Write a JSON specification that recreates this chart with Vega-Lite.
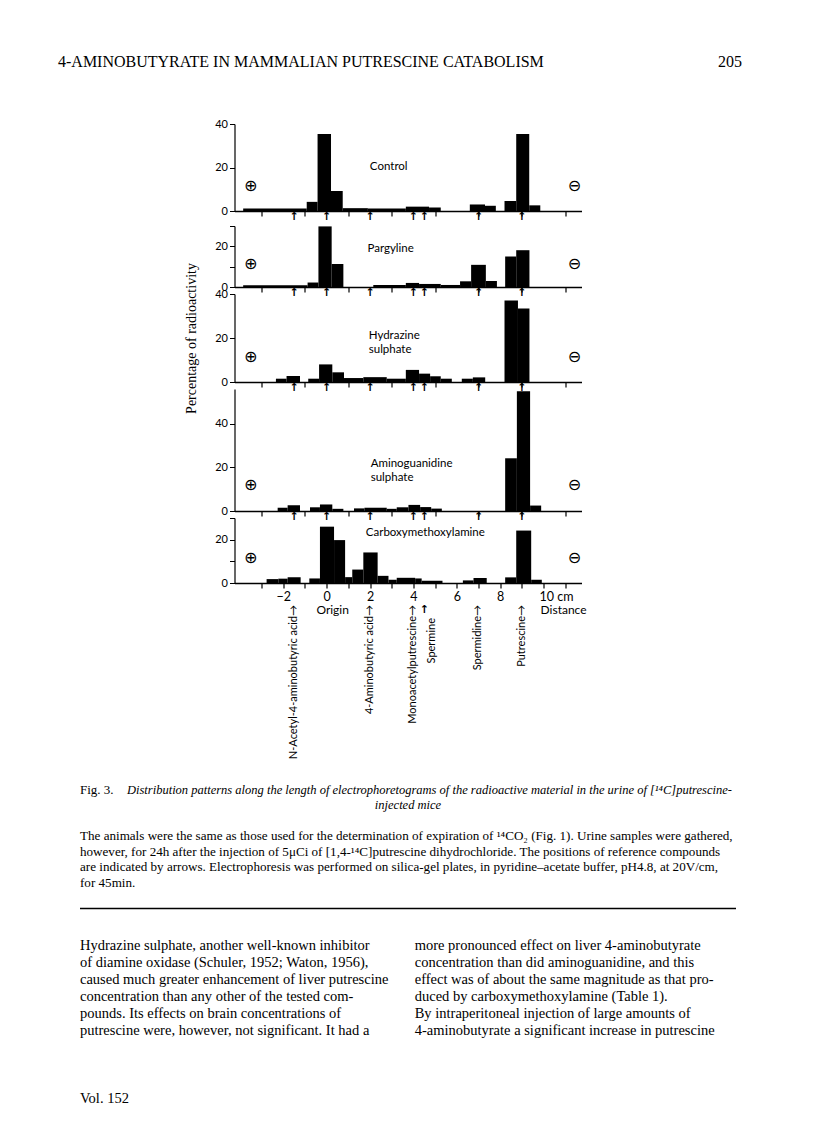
{
  "$schema": "https://vega.github.io/schema/vega-lite/v6.json",
  "background": "white",
  "padding": {"top": 52, "left": 58, "right": 5, "bottom": 5},
  "bounds": "flush",
  "center": true,
  "spacing": 7,
  "config": {
    "view": {"stroke": null},
    "font": "Lato",
    "axis": {"grid": false, "domainColor": "black", "tickColor": "black", "labelColor": "black", "labelFont": "Lato", "titleColor": "black", "labelOverlap": false, "labelBound": false, "labelFlush": false},
    "text": {"color": "black"}
  },
  "datasets": {
    "bars": [
      {"panel": "Control", "start": -3.85, "end": -0.92, "percent": 1.2},
      {"panel": "Control", "start": -0.92, "end": -0.42, "percent": 4.2},
      {"panel": "Control", "start": -0.42, "end": 0.2, "percent": 35.4},
      {"panel": "Control", "start": 0.2, "end": 0.74, "percent": 9.2},
      {"panel": "Control", "start": 0.74, "end": 1.9, "percent": 1.3},
      {"panel": "Control", "start": 1.9, "end": 3.65, "percent": 1.1},
      {"panel": "Control", "start": 3.65, "end": 4.72, "percent": 2.0},
      {"panel": "Control", "start": 4.72, "end": 5.26, "percent": 1.6},
      {"panel": "Control", "start": 6.6, "end": 7.3, "percent": 3.0},
      {"panel": "Control", "start": 7.3, "end": 7.8, "percent": 2.4},
      {"panel": "Control", "start": 8.2, "end": 8.74, "percent": 4.6},
      {"panel": "Control", "start": 8.74, "end": 9.34, "percent": 35.4},
      {"panel": "Control", "start": 9.34, "end": 9.85, "percent": 2.6},

      {"panel": "Pargyline", "start": -3.85, "end": -0.88, "percent": 0.9},
      {"panel": "Pargyline", "start": -0.88, "end": -0.38, "percent": 2.2},
      {"panel": "Pargyline", "start": -0.38, "end": 0.23, "percent": 29.8},
      {"panel": "Pargyline", "start": 0.23, "end": 0.77, "percent": 11.3},
      {"panel": "Pargyline", "start": 2.15, "end": 3.65, "percent": 1.0},
      {"panel": "Pargyline", "start": 3.65, "end": 4.26, "percent": 2.0},
      {"panel": "Pargyline", "start": 4.26, "end": 5.26, "percent": 1.5},
      {"panel": "Pargyline", "start": 5.26, "end": 6.15, "percent": 1.0},
      {"panel": "Pargyline", "start": 6.15, "end": 6.66, "percent": 2.8},
      {"panel": "Pargyline", "start": 6.66, "end": 7.34, "percent": 10.9},
      {"panel": "Pargyline", "start": 7.34, "end": 7.85, "percent": 3.0},
      {"panel": "Pargyline", "start": 8.23, "end": 8.74, "percent": 15.0},
      {"panel": "Pargyline", "start": 8.74, "end": 9.35, "percent": 18.1},

      {"panel": "Hydrazine sulphate", "start": -2.34, "end": -1.85, "percent": 1.5},
      {"panel": "Hydrazine sulphate", "start": -1.85, "end": -1.23, "percent": 2.7},
      {"panel": "Hydrazine sulphate", "start": -0.85, "end": -0.35, "percent": 1.5},
      {"panel": "Hydrazine sulphate", "start": -0.35, "end": 0.26, "percent": 8.0},
      {"panel": "Hydrazine sulphate", "start": 0.26, "end": 0.8, "percent": 4.4},
      {"panel": "Hydrazine sulphate", "start": 0.8, "end": 1.69, "percent": 1.8},
      {"panel": "Hydrazine sulphate", "start": 1.69, "end": 2.77, "percent": 2.2},
      {"panel": "Hydrazine sulphate", "start": 2.77, "end": 3.65, "percent": 1.5},
      {"panel": "Hydrazine sulphate", "start": 3.65, "end": 4.26, "percent": 5.5},
      {"panel": "Hydrazine sulphate", "start": 4.26, "end": 4.77, "percent": 3.8},
      {"panel": "Hydrazine sulphate", "start": 4.77, "end": 5.26, "percent": 2.6},
      {"panel": "Hydrazine sulphate", "start": 5.26, "end": 5.77, "percent": 1.5},
      {"panel": "Hydrazine sulphate", "start": 6.23, "end": 6.74, "percent": 1.5},
      {"panel": "Hydrazine sulphate", "start": 6.74, "end": 7.31, "percent": 2.1},
      {"panel": "Hydrazine sulphate", "start": 8.2, "end": 8.82, "percent": 37.0},
      {"panel": "Hydrazine sulphate", "start": 8.82, "end": 9.35, "percent": 33.4},

      {"panel": "Aminoguanidine sulphate", "start": -2.26, "end": -1.8, "percent": 1.5},
      {"panel": "Aminoguanidine sulphate", "start": -1.8, "end": -1.23, "percent": 2.6},
      {"panel": "Aminoguanidine sulphate", "start": -0.77, "end": -0.31, "percent": 1.7},
      {"panel": "Aminoguanidine sulphate", "start": -0.31, "end": 0.26, "percent": 3.0},
      {"panel": "Aminoguanidine sulphate", "start": 0.26, "end": 0.77, "percent": 1.0},
      {"panel": "Aminoguanidine sulphate", "start": 1.26, "end": 1.74, "percent": 1.2},
      {"panel": "Aminoguanidine sulphate", "start": 1.74, "end": 2.77, "percent": 1.5},
      {"panel": "Aminoguanidine sulphate", "start": 2.77, "end": 3.23, "percent": 1.0},
      {"panel": "Aminoguanidine sulphate", "start": 3.23, "end": 3.77, "percent": 1.7},
      {"panel": "Aminoguanidine sulphate", "start": 3.77, "end": 4.31, "percent": 2.8},
      {"panel": "Aminoguanidine sulphate", "start": 4.31, "end": 4.82, "percent": 1.8},
      {"panel": "Aminoguanidine sulphate", "start": 4.82, "end": 5.31, "percent": 1.1},
      {"panel": "Aminoguanidine sulphate", "start": 8.23, "end": 8.77, "percent": 24.2},
      {"panel": "Aminoguanidine sulphate", "start": 8.77, "end": 9.38, "percent": 55.0},
      {"panel": "Aminoguanidine sulphate", "start": 9.38, "end": 9.89, "percent": 2.5},

      {"panel": "Carboxymethoxylamine", "start": -2.77, "end": -2.23, "percent": 1.8},
      {"panel": "Carboxymethoxylamine", "start": -2.23, "end": -1.8, "percent": 2.0},
      {"panel": "Carboxymethoxylamine", "start": -1.8, "end": -1.2, "percent": 2.7},
      {"panel": "Carboxymethoxylamine", "start": -0.8, "end": -0.31, "percent": 2.1},
      {"panel": "Carboxymethoxylamine", "start": -0.31, "end": 0.34, "percent": 26.0},
      {"panel": "Carboxymethoxylamine", "start": 0.34, "end": 0.85, "percent": 19.8},
      {"panel": "Carboxymethoxylamine", "start": 0.85, "end": 1.18, "percent": 2.7},
      {"panel": "Carboxymethoxylamine", "start": 1.18, "end": 1.69, "percent": 6.2},
      {"panel": "Carboxymethoxylamine", "start": 1.69, "end": 2.35, "percent": 14.1},
      {"panel": "Carboxymethoxylamine", "start": 2.35, "end": 2.85, "percent": 3.3},
      {"panel": "Carboxymethoxylamine", "start": 2.85, "end": 3.23, "percent": 1.5},
      {"panel": "Carboxymethoxylamine", "start": 3.23, "end": 4.08, "percent": 2.4},
      {"panel": "Carboxymethoxylamine", "start": 4.08, "end": 4.38, "percent": 2.1},
      {"panel": "Carboxymethoxylamine", "start": 4.38, "end": 5.34, "percent": 1.0},
      {"panel": "Carboxymethoxylamine", "start": 6.28, "end": 6.77, "percent": 1.2},
      {"panel": "Carboxymethoxylamine", "start": 6.77, "end": 7.38, "percent": 2.3},
      {"panel": "Carboxymethoxylamine", "start": 8.23, "end": 8.74, "percent": 2.6},
      {"panel": "Carboxymethoxylamine", "start": 8.74, "end": 9.43, "percent": 24.2},
      {"panel": "Carboxymethoxylamine", "start": 9.43, "end": 9.92, "percent": 1.5}
    ],
    "compounds": [
      {"compound": "N-Acetyl-4-aminobutyric acid", "position": -1.5, "label": "N-Acetyl-4-aminobutyric acid→"},
      {"compound": "Origin", "position": 0, "label": ""},
      {"compound": "4-Aminobutyric acid", "position": 2, "label": "4-Aminobutyric acid→"},
      {"compound": "Monoacetylputrescine", "position": 4, "label": "Monoacetylputrescine→"},
      {"compound": "Spermine", "position": 4.5, "label": "Spermine"},
      {"compound": "Spermidine", "position": 7, "label": "Spermidine→"},
      {"compound": "Putrescine", "position": 9, "label": "Putrescine→"}
    ],
    "electrodes": [
      {"electrode": "anode", "symbol": "⊕"},
      {"electrode": "cathode", "symbol": "⊖"}
    ],
    "page": [
      {"part": "running-head", "col": 0, "line": 0, "text": "4-AMINOBUTYRATE IN MAMMALIAN PUTRESCINE CATABOLISM"},
      {"part": "page-number", "col": 1, "line": 0, "text": "205"},
      {"part": "fig", "col": 0, "line": 0, "text": "Fig. 3."},
      {"part": "title", "col": 0, "line": 0, "text": "Distribution patterns along the length of electrophoretograms of the radioactive material in the urine of [¹⁴C]putrescine-"},
      {"part": "title-cont", "col": 0, "line": 1, "text": "injected mice"},
      {"part": "legend", "col": 0, "line": 3, "text": "The animals were the same as those used for the determination of expiration of ¹⁴CO₂ (Fig. 1). Urine samples were gathered,"},
      {"part": "legend", "col": 0, "line": 4, "text": "however, for 24h after the injection of 5μCi of [1,4-¹⁴C]putrescine dihydrochloride. The positions of reference compounds"},
      {"part": "legend", "col": 0, "line": 5, "text": "are indicated by arrows. Electrophoresis was performed on silica-gel plates, in pyridine–acetate buffer, pH4.8, at 20V/cm,"},
      {"part": "legend", "col": 0, "line": 6, "text": "for 45min."},
      {"part": "body", "col": 0, "line": 1, "text": "    Hydrazine sulphate, another well-known inhibitor"},
      {"part": "body", "col": 0, "line": 2, "text": "of diamine oxidase (Schuler, 1952; Waton, 1956),"},
      {"part": "body", "col": 0, "line": 3, "text": "caused much greater enhancement of liver putrescine"},
      {"part": "body", "col": 0, "line": 4, "text": "concentration than any other of the tested com-"},
      {"part": "body", "col": 0, "line": 5, "text": "pounds. Its effects on brain concentrations of"},
      {"part": "body", "col": 0, "line": 6, "text": "putrescine were, however, not significant. It had a"},
      {"part": "body", "col": 0, "line": 10, "text": "Vol. 152"},
      {"part": "body", "col": 1, "line": 1, "text": "more pronounced effect on liver 4-aminobutyrate"},
      {"part": "body", "col": 1, "line": 2, "text": "concentration than did aminoguanidine, and this"},
      {"part": "body", "col": 1, "line": 3, "text": "effect was of about the same magnitude as that pro-"},
      {"part": "body", "col": 1, "line": 4, "text": "duced by carboxymethoxylamine (Table 1)."},
      {"part": "body", "col": 1, "line": 5, "text": "    By intraperitoneal injection of large amounts of"},
      {"part": "body", "col": 1, "line": 6, "text": "4-aminobutyrate a significant increase in putrescine"}
    ]
  },
  "vconcat": [
    {
      "width": 700, "height": 20,
      "data": {"name": "page"},
      "layer": [
        {"transform": [{"filter": "datum.part == 'running-head'"}],
         "mark": {"type": "text", "align": "left", "baseline": "middle", "font": "Liberation Serif", "fontSize": 16},
         "encoding": {"x": {"datum": 0, "scale": {"domain": [0, 1]}, "axis": null}, "text": {"field": "text"}}},
        {"transform": [{"filter": "datum.part == 'page-number'"}],
         "mark": {"type": "text", "align": "right", "baseline": "middle", "font": "Liberation Serif", "fontSize": 16, "dx": -16},
         "encoding": {"x": {"datum": 1}, "text": {"field": "text"}}}
      ]
    },
    {"width": 10, "height": 38, "data": {"values": [{}]}, "mark": {"type": "point", "opacity": 0}, "encoding": {}},
    {
      "width": 347, "height": 87,
      "layer": [
        {"data": {"name": "bars"}, "transform": [{"filter": "datum.panel == 'Control'"}],
         "mark": {"type": "bar", "color": "black"},
         "encoding": {
           "x": {"field": "start", "type": "quantitative", "scale": {"domain": [-4.25, 11.75], "nice": false, "zero": false},
                 "axis": {"title": null, "values": [-3,-2,-1,0,1,2,3,4,5,6,7,8,9,10,11], "labels": false, "tickSize": 5, "domainWidth": 1.5, "tickWidth": 1.2}},
           "x2": {"field": "end"},
           "y": {"field": "percent", "type": "quantitative", "scale": {"domain": [0, 40], "nice": false},
                 "axis": {"title": null, "values": [0,10,20,30,40], "labelExpr": "datum.value % 20 == 0 ? toString(datum.value) : ''", "tickSize": 5, "labelFontSize": 11, "labelPadding": 2, "domainWidth": 1.2}},
           "y2": {"datum": 0}
         }},
        {"data": {"values": [{"label": "Control"}]},
         "mark": {"type": "text", "fontSize": 11.5, "align": "center", "baseline": "middle"},
         "encoding": {"x": {"datum": 2.86}, "y": {"datum": 20.3}, "text": {"field": "label"}}},
        {"data": {"name": "electrodes"}, "transform": [{"filter": "datum.electrode == 'anode'"}],
         "mark": {"type": "text", "font": "DejaVu Sans", "fontSize": 16, "baseline": "middle"},
         "encoding": {"x": {"datum": -3.5}, "y": {"datum": 11.5}, "text": {"field": "symbol"}}},
        {"data": {"name": "electrodes"}, "transform": [{"filter": "datum.electrode == 'cathode'"}],
         "mark": {"type": "text", "font": "DejaVu Sans", "fontSize": 16, "baseline": "middle"},
         "encoding": {"x": {"datum": 11.43}, "y": {"datum": 11.5}, "text": {"field": "symbol"}}},
        {"data": {"name": "compounds"},
         "mark": {"type": "text", "text": "↑", "font": "DejaVu Sans", "fontSize": 11, "fontWeight": "bold", "baseline": "top", "dy": 0},
         "encoding": {"x": {"field": "position", "type": "quantitative"}, "y": {"datum": 0}}}
      ]
    },
    {"width": 10, "height": 1, "data": {"values": [{}]}, "mark": {"type": "point", "opacity": 0}, "encoding": {}},
    {
      "width": 347, "height": 61,
      "resolve": {"axis": {"y": "independent"}},
      "layer": [
        {"data": {"name": "bars"}, "transform": [{"filter": "datum.panel == 'Pargyline'"}],
         "mark": {"type": "bar", "color": "black"},
         "encoding": {
           "x": {"field": "start", "type": "quantitative", "scale": {"domain": [-4.25, 11.75], "nice": false, "zero": false},
                 "axis": {"title": null, "values": [-3,-2,-1,0,1,2,3,4,5,6,7,8,9,10,11], "labels": false, "tickSize": 5, "domainWidth": 1.5, "tickWidth": 1.2}},
           "x2": {"field": "end"},
           "y": {"field": "percent", "type": "quantitative", "scale": {"domain": [0, 30], "nice": false},
                 "axis": {"title": null, "orient": "left", "values": [0,20], "tickSize": 5, "labelFontSize": 11, "labelPadding": 2, "domainWidth": 1.2}},
           "y2": {"datum": 0}
         }},
        {"data": {"values": [{"label": "Pargyline"}]},
         "mark": {"type": "text", "fontSize": 11.5, "align": "center", "baseline": "middle"},
         "encoding": {"x": {"datum": 2.95}, "y": {"datum": 18.5, "axis": {"title": null, "orient": "left", "values": [10,30], "labels": false, "domain": false, "tickSize": 5}}, "text": {"field": "label"}}},
        {"data": {"name": "electrodes"}, "transform": [{"filter": "datum.electrode == 'anode'"}],
         "mark": {"type": "text", "font": "DejaVu Sans", "fontSize": 16, "baseline": "middle"},
         "encoding": {"x": {"datum": -3.5}, "y": {"datum": 11.5, "axis": null}, "text": {"field": "symbol"}}},
        {"data": {"name": "electrodes"}, "transform": [{"filter": "datum.electrode == 'cathode'"}],
         "mark": {"type": "text", "font": "DejaVu Sans", "fontSize": 16, "baseline": "middle"},
         "encoding": {"x": {"datum": 11.43}, "y": {"datum": 11.5, "axis": null}, "text": {"field": "symbol"}}},
        {"data": {"name": "compounds"},
         "mark": {"type": "text", "text": "↑", "font": "DejaVu Sans", "fontSize": 11, "fontWeight": "bold", "baseline": "top", "dy": 0},
         "encoding": {"x": {"field": "position", "type": "quantitative"}, "y": {"datum": 0, "axis": null}}}
      ]
    },
    {
      "width": 347, "height": 88,
      "layer": [
        {"data": {"name": "bars"}, "transform": [{"filter": "datum.panel == 'Hydrazine sulphate'"}],
         "mark": {"type": "bar", "color": "black"},
         "encoding": {
           "x": {"field": "start", "type": "quantitative", "scale": {"domain": [-4.25, 11.75], "nice": false, "zero": false},
                 "axis": {"title": null, "values": [-3,-2,-1,0,1,2,3,4,5,6,7,8,9,10,11], "labels": false, "tickSize": 5, "domainWidth": 1.5, "tickWidth": 1.2}},
           "x2": {"field": "end"},
           "y": {"field": "percent", "type": "quantitative", "scale": {"domain": [0, 40], "nice": false},
                 "axis": {"title": "Percentage of radioactivity", "titleFont": "Liberation Serif", "titleFontSize": 14, "titleFontWeight": "normal", "titlePadding": 16,
                          "values": [0,10,20,30,40], "labelExpr": "datum.value % 20 == 0 ? toString(datum.value) : ''", "tickSize": 5, "labelFontSize": 11, "labelPadding": 2, "domainWidth": 1.2}},
           "y2": {"datum": 0}
         }},
        {"data": {"values": [{"label": "Hydrazine\nsulphate"}]},
         "mark": {"type": "text", "fontSize": 11.5, "align": "left", "baseline": "middle", "lineBreak": "\n", "lineHeight": 14},
         "encoding": {"x": {"datum": 1.94}, "y": {"datum": 21}, "text": {"field": "label"}}},
        {"data": {"name": "electrodes"}, "transform": [{"filter": "datum.electrode == 'anode'"}],
         "mark": {"type": "text", "font": "DejaVu Sans", "fontSize": 16, "baseline": "middle"},
         "encoding": {"x": {"datum": -3.5}, "y": {"datum": 11.5}, "text": {"field": "symbol"}}},
        {"data": {"name": "electrodes"}, "transform": [{"filter": "datum.electrode == 'cathode'"}],
         "mark": {"type": "text", "font": "DejaVu Sans", "fontSize": 16, "baseline": "middle"},
         "encoding": {"x": {"datum": 11.43}, "y": {"datum": 11.5}, "text": {"field": "symbol"}}},
        {"data": {"name": "compounds"},
         "mark": {"type": "text", "text": "↑", "font": "DejaVu Sans", "fontSize": 11, "fontWeight": "bold", "baseline": "top", "dy": 0},
         "encoding": {"x": {"field": "position", "type": "quantitative"}, "y": {"datum": 0}}}
      ]
    },
    {
      "width": 347, "height": 122,
      "layer": [
        {"data": {"name": "bars"}, "transform": [{"filter": "datum.panel == 'Aminoguanidine sulphate'"}],
         "mark": {"type": "bar", "color": "black"},
         "encoding": {
           "x": {"field": "start", "type": "quantitative", "scale": {"domain": [-4.25, 11.75], "nice": false, "zero": false},
                 "axis": {"title": null, "values": [-3,-2,-1,0,1,2,3,4,5,6,7,8,9,10,11], "labels": false, "tickSize": 5, "domainWidth": 1.5, "tickWidth": 1.2}},
           "x2": {"field": "end"},
           "y": {"field": "percent", "type": "quantitative", "scale": {"domain": [0, 56], "nice": false},
                 "axis": {"title": null, "values": [0,10,20,30,40,50], "labelExpr": "datum.value % 20 == 0 ? toString(datum.value) : ''", "tickSize": 5, "labelFontSize": 11, "labelPadding": 2, "domainWidth": 1.2}},
           "y2": {"datum": 0}
         }},
        {"data": {"values": [{"label": "Aminoguanidine\nsulphate"}]},
         "mark": {"type": "text", "fontSize": 11.5, "align": "left", "baseline": "middle", "lineBreak": "\n", "lineHeight": 14},
         "encoding": {"x": {"datum": 2.03}, "y": {"datum": 21.4}, "text": {"field": "label"}}},
        {"data": {"name": "electrodes"}, "transform": [{"filter": "datum.electrode == 'anode'"}],
         "mark": {"type": "text", "font": "DejaVu Sans", "fontSize": 16, "baseline": "middle"},
         "encoding": {"x": {"datum": -3.5}, "y": {"datum": 12}, "text": {"field": "symbol"}}},
        {"data": {"name": "electrodes"}, "transform": [{"filter": "datum.electrode == 'cathode'"}],
         "mark": {"type": "text", "font": "DejaVu Sans", "fontSize": 16, "baseline": "middle"},
         "encoding": {"x": {"datum": 11.43}, "y": {"datum": 12}, "text": {"field": "symbol"}}},
        {"data": {"name": "compounds"},
         "mark": {"type": "text", "text": "↑", "font": "DejaVu Sans", "fontSize": 11, "fontWeight": "bold", "baseline": "top", "dy": 0},
         "encoding": {"x": {"field": "position", "type": "quantitative"}, "y": {"datum": 0}}}
      ]
    },
    {
      "width": 347, "height": 65,
      "resolve": {"axis": {"x": "independent", "y": "independent"}},
      "layer": [
        {"data": {"name": "bars"}, "transform": [{"filter": "datum.panel == 'Carboxymethoxylamine'"}],
         "mark": {"type": "bar", "color": "black"},
         "encoding": {
           "x": {"field": "start", "type": "quantitative", "scale": {"domain": [-4.25, 11.75], "nice": false, "zero": false},
                 "axis": {"title": null, "orient": "bottom", "values": [-2,0,2,4,6,8],
                          "labelFontSize": 12.5, "labelPadding": 2, "tickSize": 5, "domainWidth": 1.5, "tickWidth": 1.2}},
           "x2": {"field": "end"},
           "y": {"field": "percent", "type": "quantitative", "scale": {"domain": [0, 30], "nice": false},
                 "axis": {"title": null, "orient": "left", "values": [0,20], "tickSize": 5, "labelFontSize": 11, "labelPadding": 2, "domainWidth": 1.2}},
           "y2": {"datum": 0}
         }},
        {"data": {"values": [{"label": "Carboxymethoxylamine"}]},
         "mark": {"type": "text", "fontSize": 11.5, "align": "center", "baseline": "middle"},
         "encoding": {
           "x": {"datum": 4.55, "axis": {"title": null, "orient": "bottom", "values": [-3,-1,1,3,5,7,9,10,11], "labels": false, "domain": false, "tickSize": 5, "tickWidth": 1.2}},
           "y": {"datum": 23, "axis": {"title": null, "orient": "left", "values": [10,30], "labels": false, "domain": false, "tickSize": 5}},
           "text": {"field": "label"}}},
        {"data": {"name": "electrodes"}, "transform": [{"filter": "datum.electrode == 'anode'"}],
         "mark": {"type": "text", "font": "DejaVu Sans", "fontSize": 16, "baseline": "middle"},
         "encoding": {"x": {"datum": -3.5, "axis": null}, "y": {"datum": 11.5, "axis": null}, "text": {"field": "symbol"}}},
        {"data": {"name": "electrodes"}, "transform": [{"filter": "datum.electrode == 'cathode'"}],
         "mark": {"type": "text", "font": "DejaVu Sans", "fontSize": 16, "baseline": "middle"},
         "encoding": {"x": {"datum": 11.43, "axis": null}, "y": {"datum": 11.5, "axis": null}, "text": {"field": "symbol"}}},
        {"data": {"name": "compounds"}, "transform": [{"filter": "datum.label != '' && datum.compound != 'Spermine'"}],
         "mark": {"type": "text", "angle": 270, "align": "right", "baseline": "middle", "fontSize": 11, "dx": -22},
         "encoding": {"x": {"field": "position", "type": "quantitative", "axis": null}, "y": {"datum": 0, "axis": null}, "text": {"field": "label"}}},
        {"data": {"name": "compounds"}, "transform": [{"filter": "datum.compound == 'Spermine'"}],
         "mark": {"type": "text", "angle": 270, "align": "right", "baseline": "middle", "fontSize": 11, "dx": -35, "dy": 8},
         "encoding": {"x": {"field": "position", "type": "quantitative", "axis": null}, "y": {"datum": 0, "axis": null}, "text": {"field": "label"}}},
        {"data": {"name": "compounds"}, "transform": [{"filter": "datum.compound == 'Spermine'"}],
         "mark": {"type": "text", "text": "↑", "font": "DejaVu Sans", "fontSize": 11, "fontWeight": "bold", "baseline": "top", "dy": 21},
         "encoding": {"x": {"field": "position", "type": "quantitative", "axis": null}, "y": {"datum": 0, "axis": null}}},
        {"data": {"name": "compounds"}, "transform": [{"filter": "datum.compound == 'Origin'"}],
         "mark": {"type": "text", "fontSize": 12, "align": "center", "baseline": "middle", "dx": 6, "dy": 27},
         "encoding": {"x": {"field": "position", "type": "quantitative", "axis": null}, "y": {"datum": 0, "axis": null}, "text": {"field": "compound"}}},
        {"data": {"values": [{"label": "10 cm"}]},
         "mark": {"type": "text", "fontSize": 12.5, "align": "left", "baseline": "middle", "dx": -4, "dy": 14},
         "encoding": {"x": {"datum": 10, "axis": null}, "y": {"datum": 0, "axis": null}, "text": {"field": "label"}}},
        {"data": {"values": [{"label": "Distance"}]},
         "mark": {"type": "text", "fontSize": 12, "align": "left", "baseline": "middle", "dx": -3, "dy": 27},
         "encoding": {"x": {"datum": 10, "axis": null}, "y": {"datum": 0, "axis": null}, "text": {"field": "label"}}}
      ]
    },
    {"width": 10, "height": 185, "data": {"values": [{}]}, "mark": {"type": "point", "opacity": 0}, "encoding": {}},
    {
      "width": 656, "height": 108.5,
      "data": {"name": "page"},
      "encoding": {
        "y": {"field": "line", "type": "ordinal", "scale": {"domain": [0,1,2,3,4,5,6]}, "axis": null},
        "text": {"field": "text"}
      },
      "layer": [
        {"transform": [{"filter": "datum.part == 'fig'"}],
         "mark": {"type": "text", "align": "left", "font": "Liberation Serif", "fontSize": 13},
         "encoding": {"x": {"datum": 0, "scale": {"domain": [0, 1]}, "axis": null}}},
        {"transform": [{"filter": "datum.part == 'title'"}],
         "mark": {"type": "text", "align": "left", "font": "Liberation Serif", "fontStyle": "italic", "fontSize": 12.5, "dx": 47},
         "encoding": {"x": {"datum": 0}}},
        {"transform": [{"filter": "datum.part == 'title-cont'"}],
         "mark": {"type": "text", "align": "center", "font": "Liberation Serif", "fontStyle": "italic", "fontSize": 12.5},
         "encoding": {"x": {"datum": 0.5}}},
        {"transform": [{"filter": "datum.part == 'legend'"}],
         "mark": {"type": "text", "align": "left", "font": "Liberation Serif", "fontSize": 13.1},
         "encoding": {"x": {"datum": 0}}}
      ]
    },
    {
      "width": 656, "height": 15,
      "data": {"values": [{}]},
      "mark": {"type": "rule", "color": "black", "strokeWidth": 1.3},
      "encoding": {
        "x": {"datum": 0, "scale": {"domain": [0, 1]}, "axis": null},
        "x2": {"datum": 1},
        "y": {"datum": 0.3, "scale": {"domain": [0, 1]}, "axis": null}
      }
    },
    {
      "width": 656, "height": 187,
      "data": {"name": "page"},
      "transform": [{"filter": "datum.part == 'body'"}],
      "mark": {"type": "text", "align": "left", "font": "Liberation Serif", "fontSize": 14.5},
      "encoding": {
        "x": {"field": "col", "type": "quantitative", "scale": {"domain": [0, 1.96]}, "axis": null},
        "y": {"field": "line", "type": "ordinal", "scale": {"domain": [0,1,2,3,4,5,6,7,8,9,10]}, "axis": null},
        "text": {"field": "text"}
      }
    }
  ]
}
